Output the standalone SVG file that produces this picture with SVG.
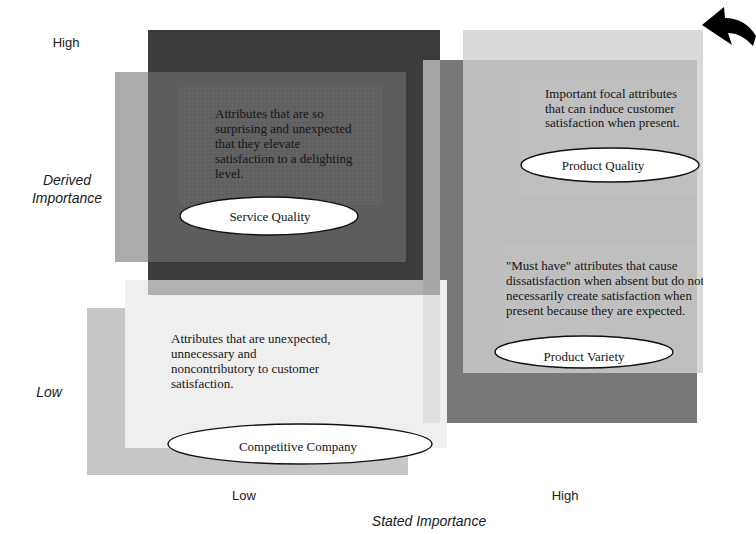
<svg xmlns="http://www.w3.org/2000/svg" width="756" height="534" viewBox="0 0 756 534">
<style>
.desc{font-family:"Liberation Serif","Times New Roman",serif;font-size:13px;fill:#161616}
.lbl{font-family:"Liberation Serif","Times New Roman",serif;font-size:13px;fill:#161616;text-anchor:middle}
.ax{font-family:"Liberation Sans",Arial,sans-serif;font-size:13px;fill:#1a1a1a;text-anchor:middle}
.axi{font-family:"Liberation Sans",Arial,sans-serif;font-size:14px;font-style:italic;fill:#1a1a1a;text-anchor:middle}
.oval{fill:#ffffff;stroke:#111;stroke-width:1.4}
</style>
<defs>
<pattern id="grid" width="4" height="4" patternUnits="userSpaceOnUse">
<rect width="4" height="4" fill="#5f5f5f"/>
<path d="M0 0.5H4M0.5 0V4" stroke="#686868" stroke-width="0.5"/>
</pattern>
<clipPath id="clipR"><rect x="463" y="30" width="240" height="343"/></clipPath>
</defs>
<rect width="756" height="534" fill="#ffffff"/>

<g id="competitive-company">
<rect x="87" y="308" width="321" height="167" fill="#c6c6c6"/>
</g>
<g id="product-variety-back">
<rect x="440" y="60" width="257" height="363" fill="#787878"/>
</g>
<g id="competitive-company-panel">
<rect x="125" y="280" width="322" height="168" fill="#efefef"/>
</g>
<g id="service-quality">
<rect x="148" y="30" width="292" height="250" fill="#3c3c3c"/>
<rect x="148" y="280" width="292" height="15" fill="#b1b1b1"/>
<rect x="115" y="72" width="33" height="190" fill="#ababab"/>
<rect x="148" y="72" width="258" height="190" fill="#5d5d5d"/>
<rect x="180" y="85" width="202" height="120" fill="url(#grid)"/>
<text class="desc" x="215" y="118">Attributes that are so</text>
<text class="desc" x="215" y="133">surprising and unexpected</text>
<text class="desc" x="215" y="148">that they elevate</text>
<text class="desc" x="215" y="163">satisfaction to a delighting</text>
<text class="desc" x="215" y="178">level.</text>
<ellipse class="oval" cx="269" cy="216" rx="89" ry="19"/>
<text class="lbl" x="270" y="221">Service Quality</text>
</g>
<g id="strip">
<rect x="423" y="60" width="17" height="235" fill="#a6a6a6"/>
<rect x="423" y="295" width="17" height="128" fill="#e0e0e0"/>
</g>
<g id="product-quality">
<rect x="463" y="30" width="240" height="343" fill="#dadada"/>
<rect x="463" y="60" width="234" height="313" fill="#bdbdbd"/>
<rect x="520" y="78" width="177" height="118" fill="#bfbfbf"/>
<rect x="502" y="245" width="195" height="128" fill="#bfbfbf"/>
<text class="desc" x="545" y="98">Important focal attributes</text>
<text class="desc" x="545" y="112.5">that can induce customer</text>
<text class="desc" x="545" y="127">satisfaction when present.</text>
<ellipse class="oval" cx="610" cy="165" rx="89" ry="17"/>
<text class="lbl" x="603" y="170">Product Quality</text>
</g>
<g id="product-variety">
<g clip-path="url(#clipR)">
<text class="desc" x="506" y="270">"Must have" attributes that cause</text>
<text class="desc" x="506" y="285">dissatisfaction when absent but do not</text>
<text class="desc" x="506" y="300">necessarily create satisfaction when</text>
<text class="desc" x="506" y="315">present because they are expected.</text>
</g>
<ellipse class="oval" cx="584" cy="352" rx="89" ry="16"/>
<text class="lbl" x="584" y="361">Product Variety</text>
</g>
<g id="competitive-company-text">
<text class="desc" x="171" y="343">Attributes that are unexpected,</text>
<text class="desc" x="171" y="358">unnecessary and</text>
<text class="desc" x="171" y="373">noncontributory to customer</text>
<text class="desc" x="171" y="388">satisfaction.</text>
<ellipse class="oval" cx="300" cy="444" rx="132" ry="20"/>
<text class="lbl" x="298" y="451">Competitive Company</text>
</g>
<g id="arrow">
<path d="M702 25 L724 7 L725 18 Q745 18 756 36 L753 46 Q742 33 728 33 L732 45 Z" fill="#000"/>
</g>
<g id="axes">
<text class="ax" x="66" y="47">High</text>
<text class="axi" x="67" y="185">Derived</text>
<text class="axi" x="67" y="203">Importance</text>
<text class="axi" x="49" y="397">Low</text>
<text class="ax" x="244" y="500">Low</text>
<text class="ax" x="565" y="500">High</text>
<text class="axi" x="429" y="526">Stated Importance</text>
</g>
</svg>
